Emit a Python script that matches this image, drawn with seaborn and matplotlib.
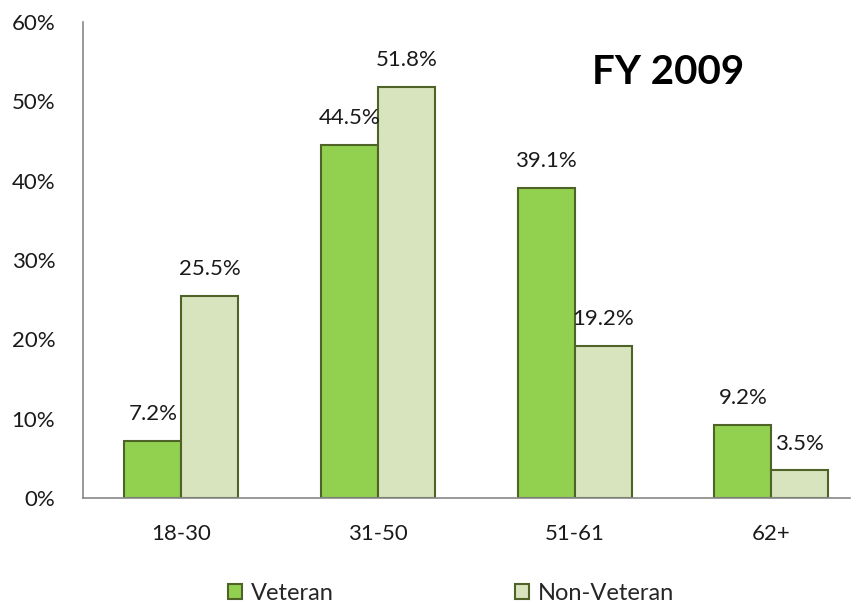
import matplotlib
matplotlib.use("Agg")
import matplotlib.pyplot as plt
import pandas as pd
import seaborn as sns

# age groups and shares (percent)
age_groups = ["18-30", "31-50", "51-61", "62+"]
veteran = [7.2, 44.5, 39.1, 9.2]
non_veteran = [25.5, 51.8, 19.2, 3.5]
y_ticks = [0, 10, 20, 30, 40, 50, 60]

df = pd.DataFrame({
    "age": age_groups * 2,
    "share": veteran + non_veteran,
    "group": ["Veteran"] * 4 + ["Non-Veteran"] * 4,
})

sns.set_style("white")
plt.rcParams["font.family"] = ["Lato", "DejaVu Sans"]

fig = plt.figure(figsize=(8.62, 6.03), dpi=100)
ax = fig.add_axes([83 / 862, 1 - 498 / 603, (850 - 83) / 862, (498 - 22) / 603])

sns.barplot(data=df, x="age", y="share", hue="group",
            palette={"Veteran": "#92D050", "Non-Veteran": "#D7E4BD"},
            saturation=1, width=0.58, edgecolor="#4F6228", linewidth=1.5, ax=ax)

# value labels above each bar
for cont in ax.containers:
    ax.bar_label(cont, labels=[f"{v:.1f}%" for v in cont.datavalues],
                 padding=12, fontsize=16, color="#1a1a1a")

ax.set_ylim(0, 60)
ax.set_xlim(-0.5, 3.4)
ax.set_yticks(y_ticks)
ax.set_yticklabels([f"{t}%" for t in y_ticks], fontsize=16)
ax.tick_params(axis="x", labelsize=16, length=0, pad=19, labelcolor="#1a1a1a")
ax.tick_params(axis="y", length=0, pad=20, labelcolor="#1a1a1a")
ax.set_xlabel("")
ax.set_ylabel("")
for s in ["top", "right"]:
    ax.spines[s].set_visible(False)
for s in ["left", "bottom"]:
    ax.spines[s].set_color("#888888")
    ax.spines[s].set_linewidth(1.2)

ax.text((668 - 83) / 767, (498 - 72) / 476, "FY 2009", transform=ax.transAxes,
        ha="center", va="center", fontsize=29, fontweight="bold", color="black")

ax.legend(loc="center", bbox_to_anchor=((451 - 83) / 767, -0.2), ncol=2, frameon=False,
          fontsize=17, handlelength=0.6, handleheight=0.6, handletextpad=0.35,
          columnspacing=7.7)

fig.savefig("out.png", dpi=100)
